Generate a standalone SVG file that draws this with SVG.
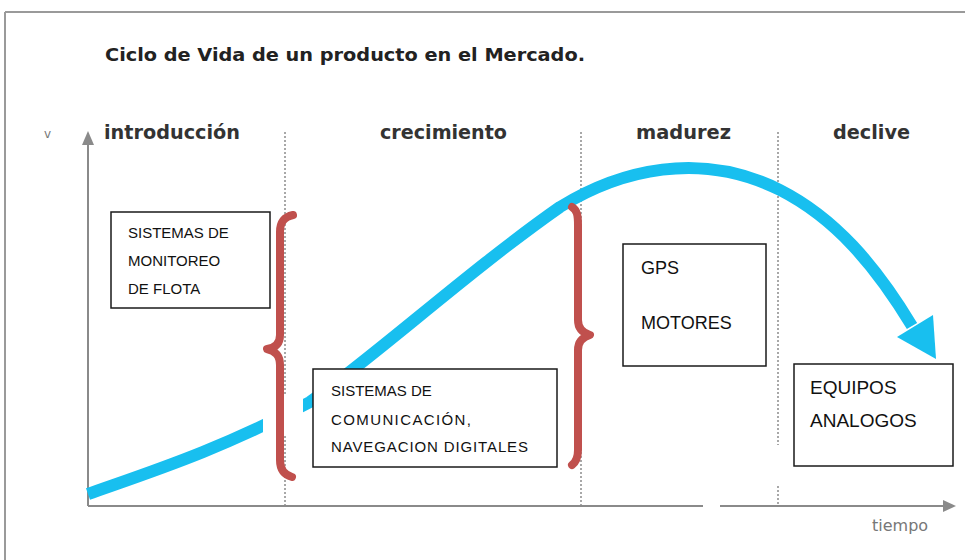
<svg xmlns="http://www.w3.org/2000/svg" width="965" height="560" viewBox="0 0 965 560">
<style>
.frame{stroke:#9a9a9a;stroke-width:2;fill:none}
.axis{stroke:#8a8a8a;stroke-width:2;fill:none}
.dot{stroke:#8c8c8c;stroke-width:1.5;stroke-dasharray:2 2;fill:none}
.brace{stroke:#C0504D;stroke-width:8;fill:none;stroke-linecap:round;stroke-linejoin:round}
.box{fill:#fff;stroke:#1a1a1a;stroke-width:1.5}
.bt{font-family:"Liberation Sans",Arial,sans-serif;font-size:15px;fill:#111}
.bt2{font-family:"Liberation Sans",Arial,sans-serif;font-size:18px;fill:#111}
.ph{font-family:"DejaVu Sans",Verdana,sans-serif;font-weight:bold;font-size:19px;fill:#333}
.gl{font-family:"DejaVu Sans",Verdana,sans-serif;font-size:16px;fill:#777}
</style>
<rect width="965" height="560" fill="#fff"/>
<g id="frame">
<path class="frame" d="M5,12 H965 M5,12 V560"/>
</g>
<text id="title" x="105" y="61" textLength="480" lengthAdjust="spacingAndGlyphs" style="font-family:'DejaVu Sans Condensed','DejaVu Sans',sans-serif;font-weight:bold;font-size:17px;fill:#222">Ciclo de Vida de un producto en el Mercado.</text>
<g id="axes">
<path class="axis" d="M88,506 V140"/>
<polygon points="88,131 82,145 94,145" fill="#8a8a8a"/>
<path class="axis" d="M88,506 H703 M720,506 H945"/>
<polygon points="956,506 943,500 943,512" fill="#8a8a8a"/>
<text class="gl" x="44" y="138" style="font-size:12px">v</text>
<text class="gl" x="872" y="531">tiempo</text>
</g>
<g id="dividers">
<path class="dot" d="M285,132 V505"/>
<path class="dot" d="M581,132 V505"/>
<path class="dot" d="M778,132 V445 M778,486 V505"/>
</g>
<g id="phases">
<text class="ph" x="104" y="139" textLength="136" lengthAdjust="spacingAndGlyphs">introducción</text>
<text class="ph" x="380" y="139" textLength="127" lengthAdjust="spacingAndGlyphs">crecimiento</text>
<text class="ph" x="636" y="139" textLength="95" lengthAdjust="spacingAndGlyphs">madurez</text>
<text class="ph" x="833" y="139" textLength="77" lengthAdjust="spacingAndGlyphs">declive</text>
</g>
<g id="connectors">
<path id="curve" d="M88,494 C150,472 220,450 310,402 C380,352 470,270 560,207 C620,170 700,150 780,190 C835,218 875,265 912,326" fill="none" stroke="#18BFEF" stroke-width="12"/>
<polygon points="897,337 933,315 936,359" fill="#18BFEF"/>
<rect x="263" y="396" width="40" height="40" fill="#fff"/>
<path class="brace" d="M293,215 C284,217 280,222 280,232 L280,335 C280,344 275,348 267,349 C275,351 280,355 280,365 L280,460 C280,470 285,475 292,477"/>
<path class="brace" d="M572,207 C577,210 578,215 578,225 L578,320 C578,329 583,333 590,335 C583,337 578,341 578,350 L578,450 C578,458 576,462 572,465"/>
</g>
<g id="box-monitoreo">
<rect class="box" x="111" y="212" width="159" height="96"/>
<text class="bt" x="128" y="238">SISTEMAS DE</text>
<text class="bt" x="128" y="266">MONITOREO</text>
<text class="bt" x="128" y="294">DE FLOTA</text>
</g>
<g id="box-comunicacion">
<rect class="box" x="313" y="369" width="244" height="98"/>
<text class="bt" x="331" y="396">SISTEMAS DE</text>
<text class="bt" x="331" y="425" textLength="140" lengthAdjust="spacing">COMUNICACIÓN,</text>
<text class="bt" x="331" y="452" textLength="197" lengthAdjust="spacing">NAVEGACION DIGITALES</text>
</g>
<g id="box-gps">
<rect class="box" x="623" y="244" width="143" height="122"/>
<text class="bt2" x="641" y="274">GPS</text>
<text class="bt2" x="641" y="329">MOTORES</text>
</g>
<g id="box-analogos">
<rect class="box" x="794" y="364" width="159" height="102"/>
<text class="bt2" x="810" y="394" style="font-size:19px">EQUIPOS</text>
<text class="bt2" x="810" y="427" style="font-size:19px">ANALOGOS</text>
</g>
</svg>
